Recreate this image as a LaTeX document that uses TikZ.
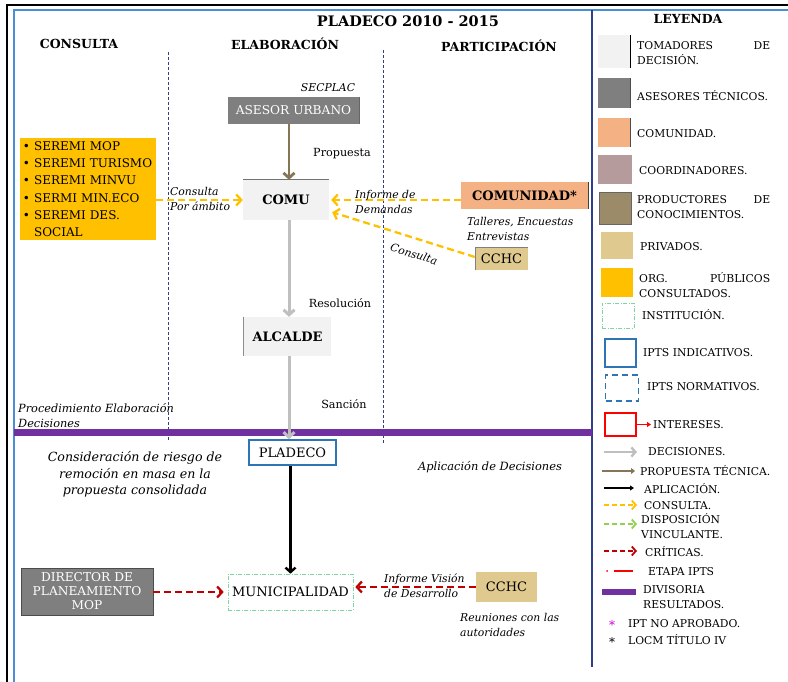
\documentclass[tikz,border=0pt]{standalone}
\usepackage{fontspec}
\setmainfont{DejaVu Serif}
\usetikzlibrary{arrows.meta,calc}

\definecolor{lgray}{HTML}{F2F2F2}
\definecolor{agray}{HTML}{7F7F7F}
\definecolor{salmon}{HTML}{F4B183}
\definecolor{mauve}{HTML}{B59B9B}
\definecolor{kbrown}{HTML}{9C8B68}
\definecolor{tan}{HTML}{E0C98F}
\definecolor{orgorange}{HTML}{FFC000}
\definecolor{instgreen}{HTML}{7ED6A3}
\definecolor{iptblue}{HTML}{2E75B6}
\definecolor{framblue}{HTML}{4A8FD6}
\definecolor{navy}{HTML}{2F3F8A}
\definecolor{decgray}{HTML}{BFBFBF}
\definecolor{propbrown}{HTML}{857656}
\definecolor{critred}{HTML}{C00000}
\definecolor{vincgreen}{HTML}{92D050}
\definecolor{divpurple}{HTML}{7030A0}
\definecolor{iptpink}{HTML}{CC00CC}

\tikzset{
  box/.style={rectangle, inner sep=0pt, align=center, font=\fontsize{13}{15}\selectfont},
  boldbox/.style={box, font=\fontsize{13}{15}\selectfont\bfseries},
  decider/.style={boldbox, fill=lgray},
  adviser/.style={box, fill=agray, text=white, font=\fontsize{12.2}{14}\selectfont},
  private/.style={box, fill=tan},
  institution/.style={box, draw=instgreen, line width=0.6pt, dash pattern=on 4pt off 1.5pt on 1pt off 1.5pt},
  indicative/.style={box, draw=iptblue, line width=1.6pt, fill=white},
  lab/.style={font=\fontsize{10.8}{15}\selectfont\itshape, inner sep=0pt, align=left},
  plainlab/.style={font=\fontsize{11.2}{15}\selectfont, inner sep=0pt},
  head/.style={font=\fontsize{12.5}{15}\selectfont\bfseries, inner sep=0pt},
  leg/.style={font=\fontsize{10.8}{15}\selectfont, inner sep=0pt, anchor=west, align=left},
  swatch/.style={rectangle, inner sep=0pt, minimum width=32pt, minimum height=30pt},
  colsep/.style={draw=navy, line width=0.8pt, dash pattern=on 3pt off 2pt},
  edge/.style={line width=1pt},
  decision/.style={draw=decgray, line width=3pt, -{Straight Barb[length=5pt,width=11pt]}},
  proposal/.style={draw=propbrown, line width=2.8pt, -{Straight Barb[length=5pt,width=11pt]}},
  application/.style={draw=black, line width=2.4pt, -{Straight Barb[length=4.5pt,width=10pt]}},
  consult/.style={draw=orgorange, line width=2.3pt, dash pattern=on 7pt off 4pt, -{Straight Barb[length=5pt,width=11pt]}},
  binding/.style={draw=vincgreen, line width=2.3pt, dash pattern=on 7pt off 4pt, -{Straight Barb[length=5pt,width=11pt]}},
  critic/.style={draw=critred, line width=2.3pt, dash pattern=on 7pt off 4pt, -{Straight Barb[length=5pt,width=11pt]}},
}

\begin{document}
\begin{tikzpicture}[x=1pt,y=-1pt]
\useasboundingbox (0,0) rectangle (788,682);

% frame
\draw[black, line width=2.5pt] (7,682) -- (7,5) -- (788,5);
\draw[framblue, line width=2pt] (14,682) -- (14,10) -- (788,10);
\draw[navy, line width=2pt] (592,10) -- (592,667);

% titles
\node[font=\fontsize{14.5}{16}\selectfont\bfseries, inner sep=0pt] (title) at (408,21) {PLADECO 2010 - 2015};
\node[head] (hcons) at (79,44) {CONSULTA};
\node[head] (helab) at (285,44) {ELABORACIÓN};
\node[head] (hpart) at (499,46) {PARTICIPACIÓN};

% column separators
\draw[colsep] (168,52) -- (168,440);
\draw[colsep] (383,50) -- (383,443);

% division band
\draw[divpurple, line width=7pt] (14,432.5) -- (592,432.5);

% actors
\node[lab] (secplac) at (328,88) {SECPLAC};
\node[adviser, minimum width=131pt, minimum height=27pt] (asesor) at (293.5,110.5) {ASESOR URBANO};
\draw[edge, draw=black!60] (asesor.north east) -- (asesor.south east);

\node[decider, minimum width=86pt, minimum height=40pt] (comu) at (286,200) {COMU};
\draw[line width=0.8pt, draw=black!55] (comu.north west) -- (comu.north east);

\node[box, fill=orgorange, minimum height=102pt, text width=130pt, inner xsep=3pt, align=left,
      font=\fontsize{12}{17.3}\selectfont] (seremi) at (88,189)
  {• SEREMI MOP\\• SEREMI TURISMO\\• SEREMI MINVU\\• SERMI MIN.ECO\\• SEREMI DES.\\\phantom{• }SOCIAL};

\node[boldbox, fill=salmon, minimum width=127pt, minimum height=27pt] (comunidad) at (524.5,195.5) {COMUNIDAD*};
\draw[edge, draw=black!75] (comunidad.north east) -- (comunidad.south east);
\node[private, minimum width=53pt, minimum height=22pt] (cchcA) at (501.5,259) {CCHC};
\draw[line width=0.6pt, draw=black!50] (cchcA.south west) -- (cchcA.north west) -- (cchcA.north east);

\node[decider, minimum width=87pt, minimum height=39pt] (alcalde) at (287.5,336.5) {ALCALDE};
\draw[edge, draw=black!45] (alcalde.north west) -- (alcalde.south west);

\node[indicative, minimum width=87pt, minimum height=25pt] (pladeco) at (292.5,452.5) {PLADECO};

\node[institution, minimum width=125pt, minimum height=36pt] (muni) at (290.5,592) {MUNICIPALIDAD};
\node[adviser, minimum width=132pt, minimum height=47pt, draw=black!70, line width=0.6pt] (director) at (87,591.5) {DIRECTOR DE\\PLANEAMIENTO\\MOP};
\node[private, minimum width=61pt, minimum height=30pt] (cchcB) at (506.5,587) {CCHC};

% connectors
\draw[proposal] ([xshift=3pt]comu.north |- asesor.south) -- ([xshift=3pt]comu.north);
\draw[consult] (seremi.east |- comu.west) -- (comu.west);
\draw[consult] (comunidad.west |- comu.east) -- ([xshift=2pt]comu.east);
\draw[consult] ([yshift=2pt]cchcA.west) -- ([xshift=3pt,yshift=8pt]comu.south east);
\draw[decision] ([xshift=3pt]comu.south) -- ([xshift=3pt]comu.south |- alcalde.north);
\draw[decision] ([xshift=3pt]comu.south |- alcalde.south) -- ([xshift=3pt]comu.south |- pladeco.north);
\draw[application] (muni.north |- pladeco.south) -- (muni.north);
\draw[critic] (director.east |- muni.west) -- ([xshift=-4pt]muni.west);
\draw[critic] (cchcB.west) -- ([xshift=2pt]muni.east |- cchcB.west);

% labels
\node[plainlab] (lprop) at (342,154) {Propuesta};
\node[lab, anchor=west] (lcons) at (170,198.5) {Consulta\\Por ámbito};
\node[lab, anchor=west] (linfo) at (355,201.5) {Informe de\\Demandas};
\node[lab, anchor=west] (ltall) at (467,228.5) {Talleres, Encuestas\\Entrevistas};
\node[lab, rotate=-17] (lcons2) at (414,254) {Consulta};
\node[plainlab] (lres) at (340,303) {Resolución};
\node[plainlab] (lsan) at (344,404) {Sanción};
\node[lab, anchor=west, font=\fontsize{11.3}{15}\selectfont\itshape] (lproc) at (18,415.5) {Procedimiento Elaboración\\Decisiones};
\node[lab, align=center, font=\fontsize{12.6}{16.5}\selectfont\itshape] (lriesgo) at (135,474.5) {Consideración de riesgo de\\remoción en masa en la\\propuesta consolidada};
\node[lab, font=\fontsize{11.4}{15}\selectfont\itshape] (lapl) at (490,467) {Aplicación de Decisiones};
\node[lab, anchor=west] (lvis) at (384,586) {Informe Visión\\de Desarrollo};
\node[lab, anchor=west] (lreu) at (460,625) {Reuniones con las\\autoridades};

% legend
\node[head] (leyenda) at (688,19) {LEYENDA};

\node[swatch, fill=lgray, minimum height=33pt] (s1) at (614,51.5) {};
\draw[edge] (s1.north east) -- (s1.south east);
\node[leg] (t1) at (637,53.5) {\hbox to 133pt{TOMADORES\hfill DE}\\DECISIÓN.};

\node[swatch, fill=agray, minimum height=30pt] (s2) at (614,93) {};
\draw[edge, draw=black!70] (s2.north east) -- (s2.south east);
\node[leg] (t2) at (637,96) {ASESORES TÉCNICOS.};

\node[swatch, fill=salmon, minimum height=29pt] (s3) at (614,132.5) {};
\draw[edge, draw=black!70] (s3.north east) -- (s3.south east);
\node[leg] (t3) at (637,134) {COMUNIDAD.};

\node[swatch, fill=mauve, minimum height=29pt, minimum width=34pt] (s4) at (615,169.5) {};
\node[leg] (t4) at (639,171) {COORDINADORES.};

\node[swatch, fill=kbrown, minimum height=32pt, draw=black!60, line width=0.6pt] (s5) at (615,208) {};
\node[leg] (t5) at (637,207.5) {\hbox to 133pt{PRODUCTORES\hfill DE}\\CONOCIMIENTOS.};

\node[swatch, fill=tan, minimum height=27pt] (s6) at (617,245.5) {};
\node[leg] (t6) at (640,247) {PRIVADOS.};

\node[swatch, fill=orgorange, minimum height=29pt] (s7) at (617,282.5) {};
\node[leg] (t7) at (639,285) {\hbox to 131pt{ORG.\hfill PÚBLICOS}\\CONSULTADOS.};

\node[swatch, institution, minimum height=25pt] (s8) at (618,315.5) {};
\node[leg] (t8) at (642,315) {INSTITUCIÓN.};

\node[swatch, draw=iptblue, line width=1.3pt, minimum width=31pt, minimum height=28pt] (s9) at (620.5,353) {};
\node[leg] (t9) at (643,353) {IPTS INDICATIVOS.};

\node[swatch, draw=iptblue, line width=1.3pt, dash pattern=on 6pt off 4pt, minimum width=33pt, minimum height=26pt] (s10) at (622,388) {};
\node[leg] (t10) at (647,387) {IPTS NORMATIVOS.};

\node[swatch, draw=red, line width=1.3pt, minimum width=31pt, minimum height=23pt] (s11) at (620.5,424.5) {};
\coordinate (a11) at (651,424.5);
\draw[red, line width=1.2pt, -{Triangle[length=4pt,width=5pt]}] (s11.east) -- (a11);
\node[leg] (t11) at (653,425) {INTERESES.};

\coordinate (a12s) at (604,452); \coordinate (a12e) at (637,452);
\draw[decision, line width=2.4pt, -{Straight Barb[length=4pt,width=9pt]}] (a12s) -- (a12e);
\node[leg] (t12) at (648,452) {DECISIONES.};

\coordinate (a13s) at (602,471); \coordinate (a13e) at (635,471);
\draw[proposal, line width=2pt, -{Triangle[length=4pt,width=6pt]}] (a13s) -- (a13e);
\node[leg] (t13) at (640,471) {PROPUESTA TÉCNICA.};

\coordinate (a14s) at (604,488); \coordinate (a14e) at (634,488);
\draw[application, line width=1.4pt, -{Triangle[length=4pt,width=5pt]}] (a14s) -- (a14e);
\node[leg] (t14) at (644,489) {APLICACIÓN.};

\coordinate (a15s) at (604,505); \coordinate (a15e) at (637,505);
\draw[consult, line width=1.8pt, dash pattern=on 5pt off 3pt, -{Straight Barb[length=4pt,width=9pt]}] (a15s) -- (a15e);
\node[leg] (t15) at (644,506) {CONSULTA.};

\coordinate (a16s) at (604,524); \coordinate (a16e) at (637,524);
\draw[binding, line width=1.8pt, dash pattern=on 5pt off 3pt, -{Straight Barb[length=4pt,width=9pt]}] (a16s) -- (a16e);
\node[leg] (t16) at (641,526.5) {DISPOSICIÓN\\VINCULANTE.};

\coordinate (a17s) at (604,551); \coordinate (a17e) at (637,551);
\draw[critic, line width=1.8pt, dash pattern=on 5pt off 3pt, -{Straight Barb[length=4pt,width=9pt]}] (a17s) -- (a17e);
\node[leg] (t17) at (645,552) {CRÍTICAS.};

\coordinate (a18d) at (607,571);
\coordinate (a18s) at (614,571); \coordinate (a18e) at (633,571);
\fill[red] (a18d) circle (1pt);
\draw[red, line width=1.2pt] (a18s) -- (a18e);
\node[leg] (t18) at (648,572) {ETAPA IPTS};

\coordinate (a19s) at (602,592); \coordinate (a19e) at (636,592);
\draw[divpurple, line width=6.5pt] (a19s) -- (a19e);
\node[leg] (t19) at (643,597.5) {DIVISORIA\\RESULTADOS.};

\node[font=\fontsize{12}{14}\selectfont, text=iptpink, inner sep=0pt] (st1) at (612,625) {*};
\node[leg] (t20) at (628,624) {IPT NO APROBADO.};
\node[font=\fontsize{12}{14}\selectfont, inner sep=0pt] (st2) at (612,642) {*};
\node[leg] (t21) at (628,640) {LOCM TÍTULO IV};

\end{tikzpicture}
\end{document}
